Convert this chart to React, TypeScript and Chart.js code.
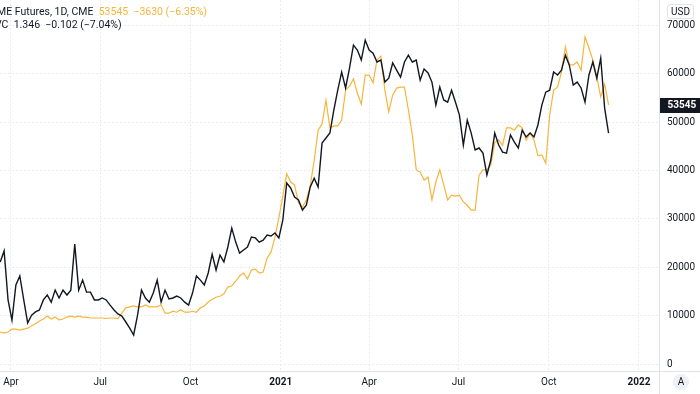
import React, { useEffect, useRef } from 'react';
import { Chart, registerables } from 'chart.js';

Chart.register(...registerables);

// ---- data ----
const START_DATE = '2020-03-21';
const STEP_DAYS = 4;

// CME Bitcoin futures close (USD)
const btcFutures = [
  6600, 6400, 6600, 7200, 7200, 7000, 7200, 7400, 7900, 8300,
  8900, 9300, 9900, 9300, 9700, 9100, 9300, 9700, 9900, 9700,
  9900, 9700, 9700, 9500, 9500, 9500, 9500, 9400, 9500, 9500,
  9400, 10500, 11600, 11800, 12000, 11800, 11800, 12200, 11800, 11800,
  11800, 12200, 10500, 10500, 10900, 10700, 11200, 10700, 10700, 10900,
  10700, 11600, 12000, 12800, 13400, 13800, 14000, 14500, 15900, 16100,
  17100, 18200, 18800, 17600, 19400, 19600, 18800, 19000, 21900, 23100,
  26200, 30200, 34700, 39300, 37600, 37000, 33300, 32400, 33900, 36800,
  42100, 48300, 49600, 54500, 48800, 49200, 49200, 50400, 56600, 57400,
  58900, 56000, 53700, 59700, 59700, 58100, 62800, 63600, 56600, 52100,
  55600, 57000, 57200, 57200, 52500, 47300, 40100, 39700, 38000, 38600,
  33900, 37600, 40100, 37000, 33900, 34900, 34700, 34900, 33500, 32800,
  31800, 31800, 39000, 40100, 40100, 41100, 45700, 46300, 45200, 48800,
  48800, 48300, 49400, 48800, 46300, 47700, 46300, 43000, 43200, 41500,
  51400, 56600, 57200, 60300, 65500, 61800, 61800, 62400, 60700, 67600,
  65300, 62800, 59300, 55200, 57800, 53545,
];

// overlay symbol (…VC), own hidden scale
const ratioVC = [
  0.82, 0.865, 0.665, 0.583, 0.726, 0.763, 0.665, 0.571, 0.603, 0.616,
  0.624, 0.665, 0.685, 0.656, 0.705, 0.673, 0.705, 0.685, 0.705, 0.893,
  0.705, 0.746, 0.697, 0.697, 0.665, 0.665, 0.673, 0.665, 0.644, 0.624,
  0.608, 0.599, 0.575, 0.55, 0.522, 0.603, 0.705, 0.673, 0.656, 0.693,
  0.746, 0.656, 0.705, 0.669, 0.673, 0.681, 0.673, 0.656, 0.644, 0.693,
  0.763, 0.746, 0.726, 0.775, 0.852, 0.787, 0.848, 0.82, 0.881, 0.958,
  0.901, 0.856, 0.869, 0.881, 0.922, 0.918, 0.901, 0.909, 0.93, 0.926,
  0.938, 0.918, 0.991, 1.142, 1.122, 1.085, 1.073, 1.032, 1.052, 1.126,
  1.162, 1.126, 1.305, 1.326, 1.346, 1.44, 1.521, 1.595, 1.53, 1.611,
  1.705, 1.685, 1.644, 1.725, 1.685, 1.672, 1.636, 1.644, 1.554, 1.57,
  1.632, 1.603, 1.574, 1.636, 1.664, 1.636, 1.644, 1.562, 1.607, 1.591,
  1.554, 1.46, 1.534, 1.481, 1.472, 1.521, 1.472, 1.419, 1.297, 1.399,
  1.346, 1.277, 1.285, 1.264, 1.175, 1.236, 1.346, 1.297, 1.268, 1.264,
  1.338, 1.309, 1.285, 1.358, 1.33, 1.346, 1.33, 1.379, 1.46, 1.513,
  1.521, 1.595, 1.583, 1.603, 1.664, 1.623, 1.542, 1.554, 1.53, 1.472,
  1.583, 1.636, 1.57, 1.652, 1.448, 1.346,
];

const quarterDates = ['2020-04-01', '2020-07-01', '2020-10-01', '2021-01-01', '2021-04-01', '2021-07-01', '2021-10-01', '2022-01-01'];
const quarterLabels = ['Apr', 'Jul', 'Oct', '2021', 'Apr', 'Jul', 'Oct', '2022'];
const usdTicks = [0, 10000, 20000, 30000, 40000, 50000, 60000, 70000];

const ORANGE = '#f7b53b';
const DARK = '#131722';
const FONT = 'Roboto';

const dayOf = (s: string) => (Date.parse(s) - Date.parse('2020-01-01')) / 864e5;

const framePlugin = {
  id: 'tvFrame',
  afterDraw(chart: any) {
    const { ctx, chartArea, width, height } = chart;
    ctx.save();
    ctx.strokeStyle = '#e0e3eb';
    ctx.lineWidth = 1;
    const rx = Math.round(chartArea.right) + 0.5;
    const by = Math.round(chartArea.bottom) + 0.5;
    ctx.beginPath();
    ctx.moveTo(rx, 0);
    ctx.lineTo(rx, height);
    ctx.moveTo(0, by);
    ctx.lineTo(width, by);
    ctx.stroke();
    const last = btcFutures[btcFutures.length - 1];
    const y = chart.scales.y.getPixelForValue(last);
    ctx.fillStyle = DARK;
    ctx.fillRect(rx + 0.5, Math.round(y) - 7, width - rx, 15);
    ctx.fillStyle = '#ffffff';
    ctx.font = `bold 10px ${FONT}`;
    ctx.textBaseline = 'middle';
    ctx.textAlign = 'left';
    ctx.fillText(String(last), rx + 8, Math.round(y) + 0.5);
    ctx.restore();
  },
};

export default function App() {
  const canvasRef = useRef<HTMLCanvasElement | null>(null);

  useEffect(() => {
    const canvas = canvasRef.current;
    if (!canvas) return;
    const x0 = dayOf(START_DATE);
    const chart = new Chart(canvas, {
      type: 'line',
      data: {
        datasets: [
          {
            label: 'VC',
            data: ratioVC.map((v, i) => ({ x: x0 + i * STEP_DAYS, y: v })),
            yAxisID: 'y2',
            borderColor: DARK,
            borderWidth: 1.4,
            pointRadius: 0,
            tension: 0,
            order: 0,
          },
          {
            label: 'CME Futures',
            data: btcFutures.map((v, i) => ({ x: x0 + i * STEP_DAYS, y: v })),
            yAxisID: 'y',
            borderColor: ORANGE,
            borderWidth: 1.2,
            pointRadius: 0,
            tension: 0,
            order: 1,
          },
        ],
      },
      options: {
        responsive: false,
        animation: false,
        devicePixelRatio: 1,
        layout: { padding: 0 },
        plugins: { legend: { display: false }, tooltip: { enabled: false } },
        scales: {
          x: {
            type: 'linear',
            min: dayOf('2020-03-21') - 0.2,
            max: dayOf('2022-01-21') + 0.4,
            afterBuildTicks: (scale: any) => {
              scale.ticks = quarterDates.map((d) => ({ value: dayOf(d) }));
            },
            afterFit: (scale: any) => {
              scale.height = 23;
              scale.paddingLeft = 0;
              scale.paddingRight = 0;
            },
            ticks: {
              autoSkip: false,
              maxRotation: 0,
              padding: 5,
              color: DARK,
              callback: (_v: any, i: number) => quarterLabels[i],
              font: (ctx: any) => ({
                family: FONT,
                size: 10,
                weight: /^\d{4}$/.test(quarterLabels[ctx.index] || '') ? 'bold' : 'normal',
              }),
            },
            grid: { color: '#e9ecf2', drawTicks: false },
            border: { display: false, dash: [2, 2] },
          },
          y: {
            position: 'right',
            min: -1446,
            max: 75207,
            afterBuildTicks: (scale: any) => {
              scale.ticks = usdTicks.map((v) => ({ value: v }));
            },
            afterFit: (scale: any) => {
              scale.width = 41;
              scale.paddingTop = 0;
              scale.paddingBottom = 0;
            },
            ticks: {
              padding: 8,
              color: DARK,
              font: { family: FONT, size: 10 },
              callback: (v: any) => String(v),
            },
            grid: { color: '#e9ecf2', drawTicks: false },
            border: { display: false, dash: [2, 2] },
          },
          y2: {
            display: false,
            min: 0.375,
            max: 1.889,
          },
        },
      },
      plugins: [framePlugin],
    } as any);
    return () => chart.destroy();
  }, []);

  return (
    <div style={{ position: 'fixed', left: 0, top: 0, width: 700, height: 394, overflow: 'hidden', background: '#fff' }}>
      <canvas ref={canvasRef} width={700} height={394} style={{ display: 'block' }} />
      <div style={{ position: 'absolute', left: -3, top: 5, font: `10.5px ${FONT}`, lineHeight: '13px', color: DARK, whiteSpace: 'pre' }}>
        {'ME Futures, 1D, CME  '}
        <span style={{ color: ORANGE }}>{'53545  −3630 (−6.35%)'}</span>
      </div>
      <div style={{ position: 'absolute', left: -5, top: 18, font: `10.5px ${FONT}`, lineHeight: '13px', color: DARK, whiteSpace: 'pre' }}>
        {'VC  1.346  −0.102 (−7.04%)'}
      </div>
      <div style={{ position: 'absolute', left: 667, top: 4, width: 25, height: 13, border: '1px solid #e0e3eb', borderRadius: 3, font: `10px ${FONT}`, lineHeight: '13px', color: DARK, textAlign: 'center', boxSizing: 'content-box' }}>
        USD
      </div>
      <div style={{ position: 'absolute', left: 673, top: 374, width: 16, height: 16, borderRadius: 8, background: '#eef0f5', font: `10px ${FONT}`, lineHeight: '16px', color: DARK, textAlign: 'center' }}>
        A
      </div>
    </div>
  );
}
